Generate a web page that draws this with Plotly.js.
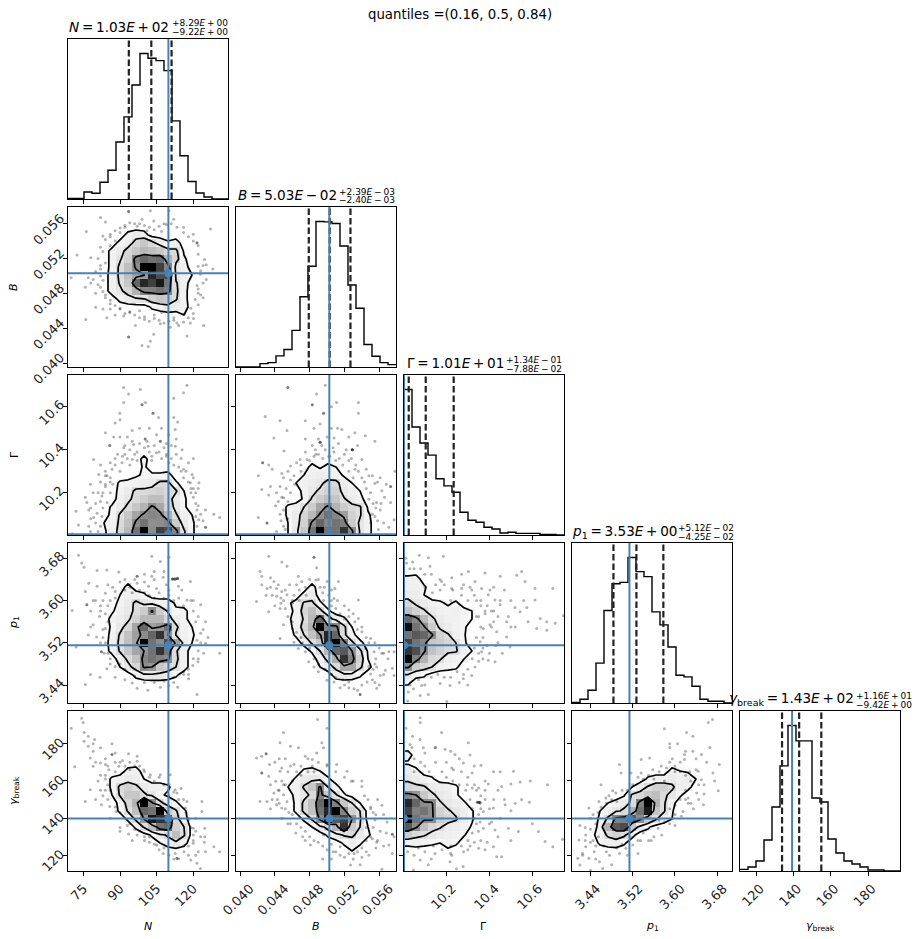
<!DOCTYPE html>
<html><head><meta charset="utf-8">
<script src="https://cdn.plot.ly/plotly-3.0.1.min.js"></script>
<style>html,body{margin:0;padding:0;background:#fff}</style></head>
<body><div id="chart" style="width:920px;height:939px"></div>
<script>
// Parameter ranges of the axes (x direction and y direction), ticks, marked values
const paramNames = ['N','B','G','P','Y'];
const rangeX = {N:[68.7,134.2],B:[0.03954,0.05792],G:[10.003,10.747],P:[3.405,3.708],Y:[111.2,197.2]};
const rangeY = {B:[0.03954,0.05792],G:[10.004,10.748],P:[3.406,3.709],Y:[111.6,197.6]};
const ticksN = [75,90,105,120];        const ticktextN = ['75','90','105','120'];
const ticksB = [0.040,0.044,0.048,0.052,0.056]; const ticktextB = ['0.040','0.044','0.048','0.052','0.056'];
const ticksG = [10.2,10.4,10.6];       const ticktextG = ['10.2','10.4','10.6'];
const ticksP = [3.44,3.52,3.60,3.68];  const ticktextP = ['3.44','3.52','3.60','3.68'];
const ticksY = [120,140,160,180];      const ticktextY = ['120','140','160','180'];
const truthX = {N:109.8,B:0.05026,G:10.003,P:3.5138,Y:139.2};
const truthY = {B:0.0503,G:10.007,P:3.5154,Y:139.8};
const quantN = [93.6,102.8,111.1];
const quantB = [0.0479,0.0503,0.05269];
const quantG = [10.025,10.104,10.234];
const quantP = [3.4835,3.527,3.578];
const quantY = [133.8,143,154.9];

// Histogram heights (20 bins)
const histN = [2,2,21,17,50,86,170,245,340,434,420,413,383,233,129,52,18,6,0,0];
const histB = [0,0,0,10,13,33,52,109,209,300,433,432,427,360,244,175,67,32,13,7];
const histG = [435,323,275,239,168,147,128,68,44,38,23,18,6,8,5,5,5,2,2,0];
const histP = [2,11,38,119,276,356,360,434,392,377,272,233,167,83,78,50,11,5,5,0];
const histY = [5,12,30,93,192,315,436,390,390,219,207,96,54,30,21,12,3,3,0,0];

// 2-D density grids, top row first, darkness 0-100, 20 x 20 bins
const levels = [3,12,42];
const gridNB = [[],[],[],
[0,0,0,0,0,0,0,5,8,6],
[0,0,0,0,0,0,5,7,16,22,15,8,4,6],
[0,0,0,0,0,5,8,16,22,28,25,22,15,14,2],
[0,0,0,0,0,5,11,18,50,60,55,58,30,16,4],
[0,0,0,0,0,5,14,25,45,100,100,75,48,8,6],
[0,0,0,0,0,6,14,25,35,40,85,70,70,9,6,3],
[0,0,0,0,0,6,13,22,60,85,75,90,55,13,6],
[0,0,0,0,0,6,10,16,30,48,50,55,50,14,5],
[0,0,0,0,0,0,5,8,10,11,18,22,20,13,5],
[0,0,0,0,0,0,0,0,0,0,4,6,9,7,6],
[0,0,0,0,0,0,0,0,0,0,0,0,0,0,3],[],[],[],[],[],[]];
const gridNG = [[],[],[],[],[],[],[],[],[],[],
[0,0,0,0,0,0,0,0,0,5],
[0,0,0,0,0,0,0,0,0,4],
[0,0,0,0,0,0,0,0,2,4,4,4,5],
[0,0,0,0,0,0,4,5,6,7,8,14,14,4],
[0,0,0,0,0,0,5,8,14,14,16,18,15,13,3],
[0,0,0,0,0,0,6,10,15,20,25,25,16,8,4],
[0,0,0,0,0,4,8,14,22,30,45,35,18,9,4],
[0,0,0,0,0,5,13,22,35,45,48,46,30,13,6,3],
[0,0,0,0,3,6,14,25,45,55,44,45,48,20,8,4],
[0,0,0,0,2,6,16,28,55,100,45,75,70,48,13,4]];
const gridBG = [[],[],[],[],[],[],[],[],[],[],[],
[0,0,0,0,0,0,0,0,0,5,2,5,3],
[0,0,0,0,0,0,0,0,3,6,7,6,6,2],
[0,0,0,0,0,0,0,3,6,7,9,16,15,7,3],
[0,0,0,0,0,0,0,0,5,9,14,18,18,8,6,3],
[0,0,0,0,0,0,0,0,4,13,20,25,22,13,7,5],
[0,0,0,0,0,0,4,6,12,20,35,45,30,20,15,13,2],
[0,0,0,0,0,0,4,8,16,28,44,55,48,38,18,13,4],
[0,0,0,0,0,0,3,8,18,45,60,48,55,50,20,10,5],
[0,0,0,0,0,0,3,9,22,55,100,55,55,80,45,10,5]];
const gridNP = [[],[],[],[],[],
[0,0,0,0,0,0,0,5],
[0,0,0,0,0,0,3,6,6,4],
[0,0,0,0,0,0,5,8,14,10,8,6,6,2],
[0,0,0,0,0,2,6,9,14,20,45,20,11,4,5],
[0,0,0,0,0,5,7,10,18,28,28,28,16,8,5],
[0,0,0,0,0,4,9,16,35,60,38,42,55,14,6,3],
[0,0,0,0,0,5,13,24,38,45,60,80,42,11,6,4],
[0,0,0,0,0,6,14,25,36,100,55,45,70,38,7,3],
[0,0,0,0,0,5,13,22,35,42,55,80,55,13,6],
[0,0,0,0,0,0,6,14,24,48,55,50,45,14,6],
[0,0,0,0,0,0,3,9,16,45,42,22,18,12,6],
[0,0,0,0,0,0,0,0,5,8,9,9,7,4],[],[],[]];
const gridBP = [[],[],[],[],[],
[0,0,0,0,0,0,0,0,0,5],
[0,0,0,0,0,0,0,0,5,7],
[0,0,0,0,0,0,2,5,13,14,4],
[0,0,0,0,0,0,0,5,16,25,15,4],
[0,0,0,0,0,0,2,5,13,28,60,18,7,4],
[0,0,0,0,0,0,0,6,16,30,100,48,48,14,3],
[0,0,0,0,0,0,0,4,12,24,38,85,60,14,5],
[0,0,0,0,0,0,0,0,5,13,22,85,100,50,14,5],
[0,0,0,0,0,0,0,0,0,4,12,28,60,65,42,14,2],
[0,0,0,0,0,0,0,0,0,0,6,15,32,80,50,18,3],
[0,0,0,0,0,0,0,0,0,0,3,7,15,35,35,14,5],
[0,0,0,0,0,0,0,0,0,0,0,0,6,8,7,4],[],[],[]];
const gridGP = [[],[],[],[],
[5,6],
[6,6,4],
[8,7,3],
[16,10,8,5,4,2,4],
[25,18,13,8,6,5,6,5,3],
[60,48,28,14,8,6,6,4,3],
[95,55,44,20,10,7,5,4],
[55,65,60,45,18,13,6,3.5],
[75,55,48,22,20,16,12,4],
[80,70,45,24,18,14,13,6,3],
[100,50,30,15,13,6,5,3],
[45,20,16,12,6,5,4],
[10,5,4],
[4],[],[]];
const gridNY = [[],[],[],[],[],[],[],
[0,0,0,0,0,0,0,5,6],
[0,0,0,0,0,4,6,8,7,3],
[0,0,0,0,0,4,14,18,14,8,6,6,4],
[0,0,0,0,0,3,13,22,22,14,9,4,2],
[0,0,0,0,0,0,5,16,30,100,45,15,7,4],
[0,0,0,0,0,0,4,13,25,60,55,100,22,13,4],
[0,0,0,0,0,0,0,4,14,42,90,80,75,16,5],
[0,0,0,0,0,0,0,0,4,13,25,55,60,18,12],
[0,0,0,0,0,0,0,0,0,0,4,8,14,25,13],
[0,0,0,0,0,0,0,0,0,0,0,3,6,9,5],[],[],[]];
const gridBY = [[],[],[],[],[],[],[],
[0,0,0,0,0,0,0,0,4,5,3],
[0,0,0,0,0,0,0,4,8,9,8,4],
[0,0,0,0,0,0,3,6,13,22,45,12,5],
[0,0,0,0,0,0,0,5,9,14,50,22,13,4],
[0,0,0,0,0,0,0,4,14,25,60,100,50,22,12,3],
[0,0,0,0,0,0,0,4,14,24,55,85,100,48,18,12],
[0,0,0,0,0,0,0,0,4,13,45,95,65,75,42,13],
[0,0,0,0,0,0,0,0,0,3,8,16,30,80,20,12,3],
[0,0,0,0,0,0,0,0,0,0,0,4,8,13,14,8,4],
[0,0,0,0,0,0,0,0,0,0,0,0,0,4,7,4],
[0,0,0,0,0,0,0,0,0,0,0,0,0,0,3],[],[]];
const gridGY = [[],[],[],[],[],
[6],
[2],
[8,5],
[10,8,6,4],
[16,14,13,8,7,6,4],
[48,42,22,14,9,7,4],
[85,60,45,44,13,9,7,4],
[75,50,55,45,18,13,10,7,3.5],
[100,55,45,45,20,16,13,7,3.5],
[65,45,25,16,13,8,7,5,2.5],
[20,15,13,9,7,6,5,3.5],
[5,6,5,4,3,5,4],
[0,0,0,0,0,2],[],[]];
const gridPY = [[],[],[],[],[],[],[],
[0,0,0,0,0,0,0,0,0,0,0,0,5,3,2],
[0,0,0,0,0,0,0,0,0,4,6,6,8,6,7,3],
[0,0,0,0,0,0,0,3,7,13,18,18,14,7,5],
[0,0,0,0,0,0,2,13,16,22,25,14,9,4],
[0,0,0,0,3,5,8,14,50,100,30,13,5],
[0,0,0,3,6,10,14,30,55,90,22,13,3.5],
[0,0,0,4,14,48,50,65,45,22,13,6,3],
[0,0,0,5,30,65,70,22,8,4],
[0,0,2,5,14,18,14,5],
[0,0,0,4,6,7,4],[],[],[]];

// Samples outside the outer contour, flat x,y lists
const ptsNB = [93.5,.0574,93.5,.0574,110,.0575,102.4,.0575,82,.0567,84,.0562,76.2,.0551,97,.0557,99,.0565,103.8,.0563,120,.0548,121.5,.0538,121.5,.0538,127,.0554,113.3,.0556,84,.0542,86,.0535,83,.0546,78,.0521,72.4,.0524,70,.0498,77,.0498,78,.0492,79,.0496,75.8,.0487,84,.0515,82,.0487,80,.0464,83,.0462,86,.0462,76,.045,84.6,.0452,91.5,.0454,96.3,.0443,93.5,.043,93.5,.043,103.8,.0433,102.4,.0425,99,.042,101.5,.0419,106.5,.0445,110.6,.0441,113.3,.0446,118.8,.0446,124.2,.0443,117.4,.0431,120.1,.0451,121.5,.0489,120.8,.0473,124.6,.0519,125.3,.0513,128,.0508,122.9,.0502,125.3,.0496,122,.0511,88,.0455,90,.0462,94,.0458,98,.046,100,.045,104,.0455,107,.0458,112,.0452,116,.0456,119,.0463,86,.0548,88,.054,90,.055,92,.0556,101,.0552,108,.056,112,.0565,116,.055,82,.0508,80,.048,84,.0475,86,.0472,122,.048,124,.0475,
86,.0545,88,.0552,90,.0555,92,.0558,94,.0561,96,.056,98,.056,100,.0558,102,.0556,104,.0553,106,.0557,107,.0551,109,.0559,111,.056,83,.0528,82,.0533,81,.052,82,.0512,80,.0505,82,.05,83,.0495,81,.049,83,.0482,84,.0478,86,.0468,88,.0466,90,.0463,92,.0457,94,.0459,96,.0455,98,.0452,100,.0453,102,.0448,104,.0451,106,.0449,108,.0446,110,.0448,112,.0449,114,.0443,116,.0447,118,.0452,120,.0457,122,.0467,123,.0478,122,.0485,124,.0492,123,.0506,124,.0512,122,.0525,122,.0535,120,.054,118,.0545,116,.0556];
const ptsNG = [91.5,10.69,93.5,10.66,99,10.61,99,10.61,100.4,10.62,91.5,10.62,89.9,10.57,103.5,10.57,103.5,10.57,88,10.525,90,10.54,98.3,10.68,117.4,10.7,116,10.665,112,10.64,105.8,10.55,112,10.55,113.6,10.53,95,10.49,100.3,10.45,100.3,10.45,85.8,10.42,85.8,10.42,84,10.48,87.4,10.46,91.5,10.41,95.6,10.425,106.5,10.44,106.5,10.44,109,10.43,112.6,10.495,112.6,10.417,115.4,10.4,104.9,10.386,101.5,10.417,90.8,10.34,95,10.355,82,10.33,79.2,10.355,81.3,10.285,84.7,10.28,86.7,10.31,120,10.36,118,10.34,116,10.31,119.5,10.285,122.3,10.247,118.8,10.247,77.9,10.24,82.6,10.185,75.8,10.18,76.4,10.155,77.2,10.12,72,10.115,80.6,10.105,79.2,10.085,77.2,10.045,73,10.05,70.4,10.01,77.9,10.02,82,10.045,82.6,10.09,84.7,10.155,86,10.2,121.5,10.12,121,10.15,122.2,10.075,125,10.04,125,10.04,128.4,10.1,130.8,10.085,121.5,10.045,92,10.38,97,10.39,103,10.37,109,10.38,111,10.36,88,10.36,86,10.25,84,10.23,119,10.2,120,10.22,
84,10.3,86,10.34,88,10.33,89,10.38,91,10.37,92,10.42,93,10.36,94,10.4,95,10.44,96,10.38,98,10.43,100,10.41,101,10.44,102,10.39,103,10.35,104,10.42,105,10.47,106,10.39,107,10.36,108,10.41,109,10.37,110,10.34,110,10.47,111,10.42,112,10.33,113,10.38,113,10.45,114,10.32,115,10.3,115,10.36,116,10.27,117,10.3,118,10.25,119,10.22,120,10.18,120,10.27,121,10.2,122,10.22,122,10.14,121,10.09,123,10.1,124,10.07,84,10.24,83,10.2,82,10.16,81,10.2,80,10.15,79,10.2,80,10.06,81,10.02,78,10.08,78,10.13,83,10.13,84,10.28,82,10.25,86,10.27,87,10.24,125,10.12,90,10.3,94,10.33,97,10.35,107,10.5,102,10.5,98,10.5,93,10.46,90,10.46];
const ptsBG = [.0455,10.69,.0455,10.69,.0488,10.66,.0498,10.7,.0483,10.61,.0483,10.61,.0511,10.62,.0536,10.62,.0496,10.57,.0496,10.57,.0505,10.6,.0536,10.57,.0475,10.535,.0446,10.535,.0429,10.555,.0454,10.49,.0439,10.455,.0492,10.435,.0492,10.435,.0492,10.435,.0529,10.4,.0529,10.4,.0529,10.4,.0529,10.4,.04865,10.4,.0508,10.455,.0517,10.495,.0532,10.48,.0544,10.465,.0555,10.44,.04505,10.395,.0477,10.355,.0469,10.355,.0426,10.34,.0426,10.34,.0433,10.33,.0437,10.31,.0448,10.29,.0458,10.325,.0421,10.28,.054,10.355,.0532,10.31,.0548,10.28,.0561,10.27,.0573,10.23,.0573,10.23,.0555,10.245,.0563,10.21,.0578,10.3,.0435,10.23,.0446,10.23,.0433,10.19,.0425,10.215,.045,10.177,.0441,10.14,.0431,10.06,.0431,10.06,.0421,10.085,.0446,10.1,.045,10.045,.0442,10.02,.0557,10.155,.0573,10.155,.0561,10.12,.0555,10.09,.0565,10.06,.0571,10.04,.0559,10.03,.0577,10.075,.0485,10.37,.049,10.38,.0495,10.36,.0502,10.37,.0508,10.39,.0514,10.36,.052,10.38,.0525,10.35,.047,10.33,
.0465,10.34,.047,10.3,.0462,10.28,.0455,10.3,.0458,10.26,.0463,10.24,.045,10.27,.0453,10.22,.0458,10.2,.0455,10.16,.0448,10.18,.045,10.12,.0455,10.08,.0452,10.03,.0447,10.07,.0444,10.16,.0442,10.2,.0475,10.39,.048,10.35,.0483,10.42,.0487,10.38,.049,10.45,.0494,10.42,.0498,10.4,.05,10.46,.0503,10.37,.0507,10.41,.051,10.35,.0513,10.43,.0518,10.33,.0522,10.4,.0525,10.3,.0528,10.36,.053,10.27,.0533,10.33,.0536,10.3,.054,10.27,.0543,10.25,.0545,10.22,.055,10.2,.0553,10.15,.0548,10.17,.0552,10.1,.0556,10.13,.055,10.06,.0558,10.07,.0562,10.15,.0566,10.18,.0545,10.31,.0552,10.28,.0558,10.25,.0568,10.24,.0475,10.45,.0485,10.5,.0492,10.52,.0505,10.5,.0512,10.5,.0525,10.46,.0535,10.42];
const ptsNP = [73,3.686,74.3,3.671,75.3,3.663,80.6,3.657,84.6,3.658,89.5,3.654,97,3.646,97,3.646,106.5,3.674,110,3.682,103,3.684,103,3.646,107.7,3.644,113.9,3.627,77.2,3.633,80.6,3.627,75.8,3.617,84,3.614,88,3.617,97,3.633,101.7,3.627,105,3.623,115.3,3.62,118.8,3.636,117.4,3.601,123,3.592,76.4,3.592,76.4,3.592,70.4,3.581,81.6,3.57,79,3.554,77,3.535,80.4,3.531,84,3.547,82.4,3.503,82.4,3.503,83.5,3.5,72,3.512,130.8,3.5,125,3.56,123,3.538,125,3.519,121.5,3.525,124.2,3.5,119.8,3.477,121.9,3.484,84.6,3.471,81.8,3.455,77.9,3.46,88,3.455,75.8,3.441,95,3.444,97,3.434,101.4,3.43,113.6,3.436,110,3.439,121.5,3.422,106.5,3.436,118.1,3.452,
111.5,3.641,111.5,3.641,111.5,3.641,112.5,3.641,112.5,3.641,112.5,3.641,113.5,3.642,113.5,3.642,113.5,3.642,100,3.635,104,3.64,109,3.63,92,3.64,94,3.625,110,3.61,86,3.6,82,3.59,78,3.58,118,3.47,116,3.46,112,3.445,92,3.45,
85,3.63,87,3.625,88,3.605,90,3.635,92,3.62,94,3.63,95,3.615,98,3.62,100,3.615,102,3.61,104,3.605,106,3.615,108,3.605,110,3.62,112,3.6,114,3.605,116,3.59,120,3.58,121,3.56,122,3.57,120,3.6,123,3.52,122,3.505,122,3.49,120,3.49,118,3.46,116,3.465,112,3.455,108,3.447,104,3.445,100,3.445,96,3.457,92,3.47,90,3.48,88,3.475,86,3.49,85,3.5,84,3.52,83,3.53,82,3.52,83,3.545,85,3.56,84,3.575,82,3.58,85,3.59,80,3.6,79,3.6,83,3.6,78,3.55,86,3.48,124,3.545,126,3.53,119,3.6,96,3.64,100,3.65,104,3.655,108,3.655];
const ptsBP = [.0433,3.684,.0448,3.673,.0485,3.682,.0485,3.682,.0488,3.662,.0454,3.665,.0423,3.655,.0425,3.646,.0435,3.643,.0442,3.623,.0431,3.623,.0448,3.617,.0454,3.611,.0439,3.636,.0467,3.646,.0471,3.636,.0487,3.639,.05,3.636,.0513,3.636,.0509,3.623,.0508,3.604,.0536,3.601,.0525,3.582,.045,3.6,.0442,3.608,.0419,3.598,.0433,3.579,.0446,3.585,.045,3.554,.046,3.547,.0446,3.528,.0462,3.521,.0467,3.509,.0475,3.503,.0479,3.484,.0485,3.474,.049,3.465,.05,3.449,.0508,3.446,.0525,3.446,.0531,3.433,.0538,3.422,.0538,3.422,.0546,3.446,.0557,3.434,.0554,3.503,.0563,3.5,.0577,3.503,.0557,3.474,.0561,3.458,.0575,3.472,.0577,3.458,.055,3.461,.0567,3.468,.0571,3.503,.055,3.528,.0544,3.509,.054,3.541,.0536,3.566,.0444,3.63,.0447,3.605,.0452,3.62,.046,3.595,.0468,3.62,.0476,3.61,.0492,3.625,.0496,3.6,.0502,3.61,.0505,3.59,.0515,3.575,.052,3.565,.0555,3.48,.0548,3.475,.0552,3.45,.0518,3.45,
.0495,3.615,.0505,3.6,.051,3.585,.0512,3.6,.052,3.59,.0525,3.57,.053,3.575,.0532,3.56,.0535,3.545,.054,3.55,.0545,3.53,.0548,3.52,.0555,3.52,.056,3.51,.0565,3.5,.057,3.49,.0556,3.49,.0553,3.47,.0565,3.46,.0555,3.445,.056,3.44,.054,3.44,.0535,3.43,.0525,3.435,.052,3.44,.0515,3.435,.051,3.455,.0505,3.46,.0498,3.47,.049,3.48,.0485,3.49,.048,3.51,.0472,3.52,.047,3.53,.0465,3.54,.046,3.56,.0455,3.57,.0452,3.585,.046,3.6,.0447,3.595,.0437,3.61,.043,3.61,.0435,3.625,.044,3.59,.0462,3.61,.0465,3.63,.048,3.64,.0475,3.625,.049,3.64,.0497,3.625,.0505,3.62,.0425,3.63,.0457,3.63,.0468,3.6];
const ptsNY = [74.3,193.7,70,188.3,74.9,191.4,75.3,186,75.3,181.4,77,184,77,178.7,79.6,182.3,79,180,79,176,82,177.8,86.7,180,86.7,174.2,86.7,174.2,93.5,174.6,97,173.3,77.8,172.4,82,169.7,84,168.8,89.5,167.9,85.4,166,71.4,167.6,79,167.9,97,170.6,99.7,166,102.4,163.4,106.5,163.4,110.6,163.4,112.6,155.3,77.8,155.3,82.4,147.2,85.8,146.3,75.8,149,88.4,143.6,93.5,131.5,97,131,105,125.6,107.7,121,113.3,118.4,113.3,118.4,120,131,120,126.5,124.7,134.6,123.5,143.6,123.5,149,116.7,145.4,120,134.6,124.7,130,124.5,127,121.5,115.7,122.9,113,128.4,124.7,130.8,122,119,117.5,116.2,122,112.6,121,113.3,153.5,117.4,149,84,172,88,170,91,171,94,166,81,160,84,161,88,165,90,135,94,137,100,128,102,130,118,139,121,140,
80,170,82,163,84,163,85,158,84,155,83,152,85,150,86,155,88,146,90,143,92,140,93,136,96,134,98,133,100,130,102,127,104,126,106,123,108,124,110,120,112,118,114,118,116,125,118,125,120,128,121,133,119,135,118,140,117,143,116,150,114,150,112,154,110,158,108,158,106,162,104,160,102,162,100,165,98,168,96,168,94,170,92,168,90,170,88,175,85,168,82,155,80,150,86,140,90,133,95,128,123,130,121,120,118,120,125,122,115,156,110,152,122,122];
const ptsBY = [.0489,193,.05,188.3,.045,186,.0494,180.5,.0496,177.8,.0446,180.5,.0458,178.7,.0467,177.8,.043,174.6,.043,174.6,.0475,173.3,.0483,171.5,.0483,168,.0425,173.3,.0419,172.4,.0434,168.8,.0448,167,.0425,164.3,.0425,164.3,.0433,162.5,.0441,159.8,.0446,165.2,.05,168.8,.0511,168.8,.0523,165.2,.0528,159.8,.054,157,.0431,149,.0442,147.2,.0448,145.4,.0454,149,.0423,149,.0439,153.5,.045,152.6,.0464,132,.0481,125.6,.0496,131,.0515,124.7,.0527,114.8,.0538,115,.0563,112.6,.0548,120,.054,119,.0556,124,.0575,131.4,.0575,131.4,.0561,133,.0563,147,.0556,141.8,.0569,138,.0577,130,.0575,121,.0557,127,.0552,129,.0571,125.6,.0531,121,.0507,122,.044,170,.0452,172,.0462,169,.047,168,.0478,172,.0488,175,.0444,155,.0452,158,.0448,140,.0455,137,.0558,150,.055,146,.0545,135,.0472,130,
.0455,165,.046,160,.045,158,.0448,160,.0445,155,.0443,150,.0452,145,.0456,143,.046,142,.0465,137,.047,135,.0475,133,.048,130,.0485,128,.049,127,.0495,125,.05,123,.0505,126,.051,122,.0515,120,.052,119,.0525,121,.053,118,.0535,122,.054,124,.0545,128,.055,130,.0553,135,.0555,139,.0553,143,.055,145,.0547,150,.0543,152,.054,160,.053,160,.052,162,.051,165,.05,168,.049,170,.0485,165,.0478,165,.047,163,.0465,165,.0458,168,.0445,172,.0435,158,.0437,150,.0445,148,.0458,137,.0475,128,.0565,142,.0558,128,.0568,132,.0505,118,.0495,118,.0435,145,.0565,125,.0545,122];
const ptsGP = [10.074,3.686,10.116,3.681,10.186,3.684,10.043,3.673,10.015,3.671,10.012,3.68,10.124,3.665,10.178,3.636,10.225,3.643,10.302,3.655,10.271,3.65,10.38,3.652,10.333,3.636,10.527,3.648,10.55,3.655,10.566,3.636,10.45,3.646,10.171,3.62,10.225,3.623,10.271,3.623,10.318,3.62,10.364,3.623,10.403,3.62,10.395,3.611,10.426,3.601,10.45,3.592,10.612,3.623,10.695,3.623,10.612,3.601,10.574,3.587,10.519,3.587,10.543,3.579,10.488,3.57,10.636,3.566,10.667,3.56,10.706,3.557,10.744,3.571,10.62,3.547,10.667,3.544,10.403,3.554,10.372,3.547,10.434,3.541,10.48,3.531,10.357,3.522,10.388,3.515,10.43,3.515,10.496,3.512,10.364,3.503,10.426,3.484,10.395,3.487,10.333,3.474,10.318,3.458,10.279,3.452,10.171,3.443,10.217,3.439,10.116,3.422,10.085,3.439,10.047,3.433,10.023,3.427,10.202,3.409,10.078,3.42,10.34,3.6,10.36,3.59,10.38,3.575,10.41,3.58,10.42,3.56,10.35,3.57,10.44,3.52,10.4,3.5,10.37,3.49,10.35,3.485,
10.34,3.57,10.36,3.55,10.36,3.6,10.33,3.61,10.3,3.6,10.31,3.625,10.27,3.61,10.28,3.63,10.23,3.62,10.22,3.6,10.19,3.63,10.17,3.64,10.15,3.63,10.13,3.65,10.1,3.65,10.08,3.66,10.05,3.66,10.03,3.66,10.1,3.625,10.135,3.615,10.39,3.59,10.42,3.58,10.44,3.57,10.38,3.58,10.41,3.55,10.37,3.53,10.34,3.53,10.33,3.51,10.35,3.5,10.37,3.51,10.32,3.49,10.3,3.47,10.28,3.46,10.25,3.465,10.22,3.455,10.19,3.455,10.16,3.46,10.13,3.455,10.1,3.44,10.07,3.45,10.03,3.44,10.02,3.41,10.26,3.445,10.3,3.44,10.45,3.6,10.47,3.62,10.5,3.6,10.42,3.625,10.48,3.56,10.52,3.55,10.56,3.6,10.46,3.5,10.5,3.55,10.58,3.56];
const ptsGY = [10.078,194,10.078,191.4,10.012,188.3,10.043,184,10.178,186,10.078,182.3,10.031,179.6,10.093,177.8,10.147,177.8,10.302,180.5,10.194,177,10.24,174.2,10.279,169.7,10.233,166,10.225,167,10.31,174,10.361,168.5,10.32,164.3,10.32,156.2,10.297,158,10.35,156.2,10.395,158.4,10.457,157,10.5,158.4,10.512,165.2,10.543,159.5,10.59,160,10.67,158,10.586,148.6,10.52,148,10.473,147.2,10.419,145.4,10.372,143.6,10.357,148,10.349,133,10.372,134.6,10.357,138,10.426,133.7,10.488,134.6,10.535,132.8,10.628,132.8,10.659,127.4,10.695,124.7,10.74,128.6,10.38,123,10.35,123.8,10.419,124.7,10.434,119.3,10.457,119.3,10.225,120,10.147,121,10.116,115,10.247,112.8,10.217,116.6,10.278,114,10.078,117.5,10.047,112.2,
10.344,148.5,10.344,148.5,10.35,148.5,10.35,148.5,10.356,148.5,10.356,148.5,10.3,162,10.33,158,10.36,152,10.38,150,10.4,137,10.45,140,10.33,127,10.31,125,10.28,122,
10.02,176,10.05,172,10.08,170,10.1,168,10.12,165,10.1,175,10.15,170,10.18,165,10.2,162,10.2,170,10.23,160,10.26,158,10.27,165,10.29,155,10.31,150,10.34,155,10.32,145,10.35,142,10.33,140,10.34,137,10.36,145,10.38,155,10.4,145,10.42,150,10.44,155,10.41,138,10.44,130,10.32,132,10.3,128,10.27,125,10.3,123,10.22,125,10.18,123,10.14,125,10.1,122,10.07,124,10.05,120,10.02,122,10.13,118,10.22,121,10.36,128,10.39,127,10.47,150,10.5,144,10.55,150,10.42,165,10.38,160,10.45,165,10.33,168,10.26,172,10.22,176,10.15,178,10.05,165,10.04,178,10.6,137,10.5,128];
const ptsPY = [3.663,191.4,3.671,193,3.58,188,3.622,186,3.634,184,3.59,180,3.59,178,3.618,174.2,3.634,176,3.666,178,3.65,174.2,3.618,171.5,3.552,172.4,3.536,171.5,3.574,168,3.584,167,3.495,168.8,3.498,164.3,3.517,164.3,3.536,164.3,3.558,166,3.684,168.8,3.672,164.3,3.644,165.2,3.65,160.7,3.682,154.8,3.641,153.5,3.625,150.8,3.654,147.2,3.615,143.6,3.612,141,3.568,134.6,3.545,133.7,3.52,125.6,3.507,123.8,3.482,154.8,3.488,153.5,3.46,158,3.469,150.8,3.437,145.4,3.456,149,3.44,140,3.431,131,3.418,128.3,3.431,124.7,3.416,118.4,3.42,114.8,3.437,118.4,3.447,122,3.463,113,3.476,120,3.495,121,3.457,116.6,3.595,172,3.605,180,3.6,168,3.61,165,3.628,165,3.64,172,3.655,158,3.645,150,3.63,148,3.62,155,3.42,136,3.425,121,3.445,128,3.455,130,3.555,128,3.535,128,3.6,136,
3.44,134,3.45,137,3.445,142,3.455,143,3.46,146,3.47,148,3.475,152,3.48,150,3.49,149,3.5,155,3.51,155,3.52,158,3.53,162,3.54,161,3.55,163,3.56,161,3.57,165,3.58,160,3.59,170,3.6,165,3.61,170,3.62,163,3.63,160,3.645,158,3.655,153,3.635,145,3.625,148,3.62,150,3.61,150,3.6,147,3.6,142,3.59,137,3.58,138,3.57,139,3.56,130,3.55,128,3.54,132,3.53,128,3.515,130,3.5,126,3.49,124,3.47,122,3.45,125,3.44,127,3.43,128,3.43,135,3.425,120,3.44,112,3.45,118,3.465,125,3.51,120,3.48,115,3.53,121,3.575,131,3.59,145,3.62,176,3.64,166,3.66,170,3.675,160];

// Layout of the grid in the 920 x 939 window
const W = 920, H = 939, cellL = [68,236,404,572,740], cellT = [39,207,375,543,711], cellS = 160;
const tickInfo = {N:[ticksN,ticktextN],B:[ticksB,ticktextB],G:[ticksG,ticktextG],P:[ticksP,ticktextP],Y:[ticksY,ticktextY]};
const xLabelShift = {N:3.5,B:10,G:6,P:6,Y:4};
const yLabelShift = {B:-7,G:-4,P:-4,Y:-3};
const hists = {N:histN,B:histB,G:histG,P:histP,Y:histY};
const quants = {N:quantN,B:quantB,G:quantG,P:quantP,Y:quantY};
const grids = {NB:gridNB,NG:gridNG,BG:gridBG,NP:gridNP,BP:gridBP,GP:gridGP,NY:gridNY,BY:gridBY,GY:gridGY,PY:gridPY};
const pts = {NB:ptsNB,NG:ptsNG,BG:ptsBG,NP:ptsNP,BP:ptsBP,GP:ptsGP,NY:ptsNY,BY:ptsBY,GY:ptsGY,PY:ptsPY};
const BLUE = '#4682b4', FONT = 'DejaVu Sans';
const data = [], layout = {width:W,height:H,margin:{l:0,r:0,t:0,b:0,pad:0},paper_bgcolor:'#fff',plot_bgcolor:'#fff',showlegend:false,font:{family:FONT,size:13,color:'#000'},annotations:[]};
let axisNo = 0;
function centres(r){const a=[];for(let i=0;i<20;i++)a.push(r[0]+(i+.5)*(r[1]-r[0])/20);return a;}
function edges(r){const a=[];for(let i=0;i<=20;i++)a.push(r[0]+i*(r[1]-r[0])/20);return a;}
function addAxes(row,col,xp,yp,isHist){
  axisNo++;
  const s = axisNo===1?'':String(axisNo);
  const common = {showgrid:false,zeroline:false,showline:true,linecolor:'#000',linewidth:1,mirror:true,ticks:'outside',ticklen:4,tickwidth:1,tickcolor:'#000',layer:'above traces',tickfont:{family:FONT,size:13,color:'#222'},tickangle:-45,fixedrange:true};
  layout['xaxis'+s] = Object.assign({},common,{anchor:'y'+s,domain:[cellL[col]/W,(cellL[col]+cellS)/W],range:rangeX[xp],tickmode:'array',tickvals:tickInfo[xp][0],ticktext:tickInfo[xp][1],showticklabels:row===4,ticklabelshift:xLabelShift[xp]});
  if(isHist){
    const top = Math.max.apply(null,hists[xp])*1.1;
    layout['yaxis'+s] = Object.assign({},common,{anchor:'x'+s,domain:[1-(cellT[row]+cellS)/H,1-cellT[row]/H],range:[0,top],ticks:'',showticklabels:false});
  } else {
    layout['yaxis'+s] = Object.assign({},common,{anchor:'x'+s,domain:[1-(cellT[row]+cellS)/H,1-cellT[row]/H],range:rangeY[yp],tickmode:'array',tickvals:tickInfo[yp][0],ticktext:tickInfo[yp][1],showticklabels:col===0,ticklabelshift:yLabelShift[yp]});
  }
  return {x:'x'+s,y:'y'+s};
}
for(let row=0;row<5;row++){
  for(let col=0;col<=row;col++){
    const xp=paramNames[col], yp=paramNames[row];
    if(row===col){
      const a=addAxes(row,col,xp,yp,true);
      const h=hists[xp], top=Math.max.apply(null,h)*1.1;
      data.push({type:'scatter',mode:'lines',xaxis:a.x,yaxis:a.y,x:edges(rangeX[xp]),y:h.concat([h[h.length-1]]),line:{shape:'hv',color:'#000',width:1.4},hoverinfo:'skip'});
      quants[xp].forEach(q=>data.push({type:'scatter',mode:'lines',xaxis:a.x,yaxis:a.y,x:[q,q],y:[0,top],line:{color:'#222',width:2.2,dash:'6.5px,3px'},hoverinfo:'skip'}));
      data.push({type:'scatter',mode:'lines',xaxis:a.x,yaxis:a.y,x:[truthX[xp],truthX[xp]],y:[0,top],line:{color:BLUE,width:2},hoverinfo:'skip'});
    } else {
      const a=addAxes(row,col,xp,yp,false);
      const key=xp+yp;
      const rows=grids[key].slice().reverse().map(r=>{const c=r.slice();while(c.length<20)c.push(0);return c;});
      const cx=centres(rangeX[xp]), cy=centres(rangeY[yp]);
      data.push({type:'heatmap',xaxis:a.x,yaxis:a.y,x:cx,y:cy,z:rows,zmin:0,zmax:100,showscale:false,colorscale:[[0,'#ffffff'],[1,'#000000']],hoverinfo:'skip'});
      const px=[rangeX[xp][0]].concat(cx,[rangeX[xp][1]]), py=[rangeY[yp][0]].concat(cy,[rangeY[yp][1]]);
      const padded=rows.map(r=>[r[0]].concat(r,[r[19]]));
      padded.unshift(padded[0].slice()); padded.push(padded[padded.length-1].slice());
      levels.forEach(L=>data.push({type:'contour',xaxis:a.x,yaxis:a.y,x:px,y:py,z:padded,autocontour:false,showscale:false,contours:{coloring:'none',start:L,end:L,size:1},line:{color:'#000',width:1.7,smoothing:0},hoverinfo:'skip'}));
      const P=pts[key], sx=[], sy=[];
      for(let i=0;i<P.length;i+=2){sx.push(P[i]);sy.push(P[i+1]);}
      data.push({type:'scatter',mode:'markers',xaxis:a.x,yaxis:a.y,x:sx,y:sy,marker:{color:'#000',size:3,opacity:.3,line:{width:0}},hoverinfo:'skip'});
      data.push({type:'scatter',mode:'lines',xaxis:a.x,yaxis:a.y,x:[truthX[xp],truthX[xp]],y:rangeY[yp],line:{color:BLUE,width:2},hoverinfo:'skip'});
      data.push({type:'scatter',mode:'lines',xaxis:a.x,yaxis:a.y,x:rangeX[xp],y:[truthY[yp],truthY[yp]],line:{color:BLUE,width:2},hoverinfo:'skip'});
      data.push({type:'scatter',mode:'markers',xaxis:a.x,yaxis:a.y,x:[truthX[xp]],y:[truthY[yp]],marker:{color:BLUE,size:8,line:{width:0}},hoverinfo:'skip'});
    }
  }
}
function note(text,px,py,size,anchor,angle){
  layout.annotations.push({xref:'paper',yref:'paper',x:px/W,y:1-py/H,text:text,showarrow:false,xanchor:anchor||'left',yanchor:'middle',textangle:angle||0,borderpad:0,font:{family:FONT,size:size,color:'#000'}});
}
note('quantiles =(0.16, 0.5, 0.84)',460,14,13.3,'center');
const titleMain = ['<i>N</i>\u2009=\u20091.03<i>E</i>\u2009+\u200902','<i>B</i>\u2009=\u20095.03<i>E</i>\u2009−\u200902','Γ\u2009=\u20091.01<i>E</i>\u2009+\u200901','<i>p</i><sub>1</sub>\u2009=\u20093.53<i>E</i>\u2009+\u200900','<i>γ</i><sub>break</sub>\u2009=\u20091.43<i>E</i>\u2009+\u200902'];
const titleUp = ['+8.29<i>E</i>\u2009+\u200900','+2.39<i>E</i>\u2009−\u200903','+1.34<i>E</i>\u2009−\u200901','+5.12<i>E</i>\u2009−\u200902','+1.16<i>E</i>\u2009+\u200901'];
const titleLo = ['−9.22<i>E</i>\u2009+\u200900','−2.40<i>E</i>\u2009−\u200903','−7.88<i>E</i>\u2009−\u200902','−4.25<i>E</i>\u2009−\u200902','−9.42<i>E</i>\u2009+\u200900'];
const mainPos=[[68,27],[237,195],[406,363],[571,532],[728,699]];
const upPos=[[171,23.5],[338,192],[505,359.7],[677,528],[855,695.7]];
const loPos=[[171,32.5],[338,200.5],[505,369],[677,536.7],[855,704.7]];
titleMain.forEach((t,i)=>{note(t,mainPos[i][0],mainPos[i][1],13.6);note(titleUp[i],upPos[i][0],upPos[i][1],9);note(titleLo[i],loPos[i][0],loPos[i][1],9);});
const axisLabels=['<i>N</i>','<i>B</i>','Γ','<i>p</i><sub>1</sub>','<i>γ</i><sub>break</sub>'];
axisLabels.forEach((t,i)=>note(t,cellL[i]+80,926,11,'center'));
axisLabels.slice(1).forEach((t,i)=>note(t,14,cellT[i+1]+80,11,'center',-90));
Plotly.newPlot('chart',data,layout,{displayModeBar:false,staticPlot:true});
</script></body></html>
